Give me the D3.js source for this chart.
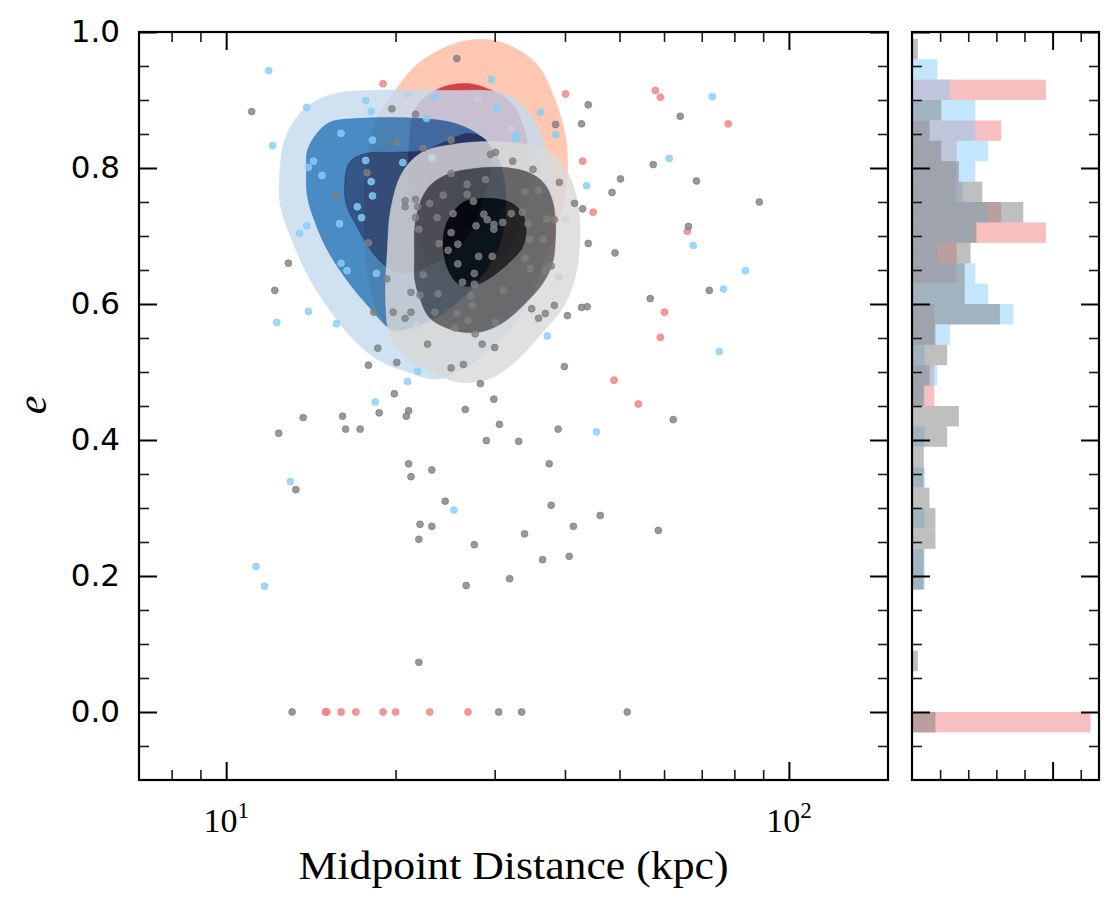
<!DOCTYPE html>
<html>
<head>
<meta charset="utf-8">
<script src="https://cdn.jsdelivr.net/npm/d3@7"></script>
<style>
  body { margin: 0; background: #fff; }
</style>
</head>
<body>
<div id="chart"></div>
<script>
// e vs midpoint distance, with KDE contours and a side histogram of e

const WIDTH = 1119;
const HEIGHT = 905;
const MAIN = { LEFT: 139, RIGHT: 888, TOP: 32, BOTTOM: 780 };
const HIST = { LEFT: 912, RIGHT: 1099 };
const BIN = 0.03;
const KDE_ALPHA = 0.82;

// ---- data ----------------------------------------------------------------

const yMajor = [0.0, 0.2, 0.4, 0.6, 0.8, 1.0];
const yMinor = [-0.05, 0.05, 0.1, 0.15, 0.25, 0.3, 0.35, 0.45, 0.5, 0.55, 0.65, 0.7, 0.75, 0.85, 0.9, 0.95];
const xMajor = [10, 100];
const xMinor = [8, 9, 20, 30, 40, 50, 60, 70, 80, 90];
const hMajor = [5];
const hMinor = [1, 2, 3, 4, 6];

// [midpoint distance (kpc), e]
const redPts = [[19.0,0.924],[40.1,0.909],[43.0,0.810],[21.0,0.908],[28.0,0.902],[32.1,0.858],[39.0,0.640],
  [57.9,0.914],[59.1,0.904],[78.0,0.865],[44.9,0.735],[66.0,0.707],[60.1,0.588],[59.1,0.551],[48.9,0.488],
  [54.0,0.453],[15.0,0.0],[15.1,0.0],[16.0,0.0],[17.0,0.0],[19.0,0.0],[20.0,0.0],[23.0,0.0],[26.9,0.0]];

const bluePts = [[11.9,0.943],[13.9,0.889],[17.7,0.899],[18.1,0.883],[23.5,0.904],[29.6,0.930],[30.3,0.888],
  [36.2,0.882],[38.5,0.849],[22.7,0.873],[12.1,0.833],[16.0,0.851],[18.2,0.841],[14.3,0.810],[14.0,0.801],
  [14.8,0.789],[17.7,0.811],[20.6,0.808],[18.1,0.780],[18.2,0.759],[17.1,0.743],[17.4,0.727],[15.9,0.718],
  [13.9,0.715],[13.5,0.704],[16.0,0.660],[16.4,0.649],[18.5,0.645],[14.0,0.589],[12.3,0.573],[15.7,0.571],
  [21.9,0.501],[21.0,0.486],[37.2,0.553],[43.7,0.774],[32.8,0.848],[32.7,0.843],[23.2,0.815],[73.1,0.905],
  [61.3,0.814],[67.6,0.686],[83.7,0.649],[76.5,0.622],[75.2,0.530],[45.5,0.412],[18.4,0.456],[13.0,0.339],
  [25.4,0.297],[11.3,0.214],[11.7,0.185],[40.1,0.725],[21.8,0.568]];

const grayPts = [[25.7,0.961],[11.1,0.883],[19.7,0.887],[21.7,0.879],[38.5,0.864],[42.8,0.865],[44.0,0.893],
  [20.1,0.838],[22.4,0.829],[25.1,0.841],[29.5,0.820],[30.1,0.823],[32.3,0.810],[35.1,0.798],[39.1,0.779],
  [25.1,0.792],[17.8,0.793],[15.7,0.758],[26.8,0.776],[28.9,0.783],[26.8,0.761],[34.0,0.765],[35.9,0.767],
  [41.6,0.748],[43.0,0.740],[20.8,0.752],[20.8,0.743],[21.7,0.754],[21.9,0.743],[23.0,0.748],[24.3,0.760],
  [27.5,0.751],[28.7,0.732],[29.1,0.724],[29.9,0.717],[29.9,0.710],[31.0,0.720],[32.1,0.733],[33.6,0.735],
  [27.8,0.715],[25.3,0.733],[23.7,0.727],[21.7,0.727],[22.0,0.710],[25.1,0.705],[23.9,0.689],[25.8,0.688],
  [24.8,0.679],[28.1,0.670],[29.7,0.670],[25.8,0.659],[27.6,0.645],[26.3,0.632],[27.6,0.629],[34.0,0.667],
  [34.7,0.652],[36.8,0.649],[37.8,0.656],[34.6,0.695],[36.6,0.695],[34.4,0.718],[37.1,0.725],[38.3,0.724],
  [17.9,0.690],[12.9,0.660],[12.2,0.620],[19.3,0.637],[21.3,0.617],[22.1,0.613],[22.4,0.643],[23.8,0.615],
  [27.2,0.612],[31.1,0.620],[27.4,0.598],[25.7,0.586],[23.5,0.588],[21.3,0.588],[19.8,0.588],[18.3,0.588],
  [20.8,0.579],[26.9,0.576],[30.1,0.573],[25.5,0.565],[27.7,0.556],[22.8,0.541],[28.5,0.541],[30.0,0.536],
  [34.9,0.593],[35.9,0.579],[36.9,0.586],[38.3,0.598],[40.4,0.583],[42.8,0.595],[43.8,0.596],[18.6,0.535],
  [17.9,0.510],[20.1,0.514],[25.1,0.506],[26.4,0.511],[28.3,0.483],[39.9,0.508],[29.9,0.460],[19.9,0.468],
  [64.1,0.876],[57.4,0.805],[50.2,0.784],[48.5,0.764],[68.5,0.781],[88.6,0.750],[66.3,0.714],[44.0,0.689],
  [49.1,0.675],[56.7,0.608],[72.2,0.620],[13.7,0.433],[16.1,0.435],[18.7,0.440],[21.1,0.443],[20.9,0.435],
  [26.6,0.445],[12.4,0.410],[16.3,0.416],[17.3,0.416],[30.6,0.423],[29.0,0.399],[33.1,0.398],[38.9,0.416],
  [21.1,0.365],[23.2,0.356],[37.5,0.365],[21.3,0.346],[13.3,0.327],[24.5,0.310],[37.8,0.304],[22.1,0.276],
  [23.2,0.273],[41.4,0.273],[22.0,0.254],[33.9,0.262],[27.6,0.246],[36.5,0.224],[40.7,0.229],[31.9,0.196],
  [26.7,0.186],[22.0,0.073],[13.1,0.0],[30.5,0.0],[33.5,0.0],[51.6,0.0],[62.3,0.430],[46.2,0.289],[58.6,0.267]];

// KDE contour outlines (outer, middle, inner level), [distance, e]
const redOuter = [[29.8,0.988],[33.2,0.973],[36.0,0.948],[38.45,0.899],[40.06,0.848],[40.4,0.796],[39.5,0.738],
  [37.8,0.686],[35.3,0.635],[31.85,0.590],[27.6,0.561],[23.9,0.543],[20.7,0.546],[18.9,0.579],[17.97,0.627],
  [17.6,0.708],[17.7,0.796],[18.4,0.867],[20.08,0.917],[22.05,0.955],[24.93,0.980],[27.05,0.988]];
const redMid = [[27.05,0.924],[29.96,0.912],[32.2,0.895],[33.7,0.862],[34.57,0.811],[34.3,0.752],[32.5,0.693],
  [29.36,0.649],[25.97,0.635],[23.44,0.657],[21.83,0.708],[21.17,0.767],[21.17,0.840],[21.7,0.888],[23.93,0.917]];
const redIn = [[28.0,0.811],[29.96,0.796],[30.8,0.760],[29.96,0.720],[28.0,0.705],[26.2,0.723],[25.44,0.760],[26.2,0.796]];

const blueOuter = [[12.43,0.782],[12.69,0.840],[13.33,0.874],[14.23,0.896],[15.70,0.910],[17.97,0.914],[24.4,0.914],
  [31.0,0.910],[34.0,0.888],[36.3,0.848],[37.5,0.782],[37.2,0.693],[34.6,0.605],[29.4,0.532],[23.9,0.490],
  [21.2,0.499],[18.7,0.517],[16.9,0.546],[15.3,0.590],[13.9,0.645],[12.95,0.704],[12.48,0.745]];
const blueMid = [[13.89,0.796],[13.95,0.826],[14.5,0.851],[15.26,0.867],[17.3,0.873],[22.05,0.873],[25.65,0.865],
  [28.5,0.845],[30.58,0.811],[31.4,0.752],[30.58,0.686],[27.61,0.627],[23.93,0.583],[21.17,0.564],[19.75,0.562],
  [17.97,0.595],[16.56,0.630],[15.26,0.674],[14.5,0.713],[13.95,0.757]];
const blueIn = [[16.23,0.774],[16.56,0.808],[17.60,0.821],[19.91,0.823],[22.5,0.826],[25.0,0.842],[27.05,0.851],
  [29.0,0.840],[29.7,0.811],[28.76,0.760],[26.50,0.693],[22.97,0.657],[20.32,0.646],[19.11,0.657],[17.97,0.682],
  [17.04,0.715],[16.36,0.745]];

const grayOuter = [[19.34,0.679],[19.6,0.738],[20.55,0.793],[22.3,0.823],[25.44,0.835],[29.36,0.839],[33.6,0.836],
  [37.06,0.826],[39.6,0.805],[41.4,0.774],[42.42,0.730],[42.42,0.679],[41.56,0.635],[39.89,0.598],[36.76,0.561],
  [32.51,0.514],[29.36,0.490],[25.97,0.485],[22.97,0.502],[20.74,0.524],[19.6,0.549],[19.2,0.605]];
const grayMid = [[21.61,0.668],[21.61,0.708],[21.83,0.733],[22.3,0.757],[23.2,0.777],[24.93,0.792],[27.4,0.799],
  [30.96,0.801],[34.57,0.793],[36.76,0.777],[38.0,0.752],[38.45,0.723],[38.45,0.693],[38.0,0.660],[36.5,0.630],
  [34.0,0.601],[31.46,0.576],[29.0,0.561],[26.7,0.558],[24.6,0.565],[22.97,0.580],[22.05,0.610],[21.61,0.639]];
const grayIn = [[26.3,0.749],[28.18,0.755],[30.58,0.754],[32.2,0.748],[33.6,0.733],[34.1,0.708],[33.6,0.683],
  [32.2,0.665],[30.2,0.645],[28.18,0.630],[26.7,0.626],[25.65,0.632],[24.7,0.654],[24.3,0.683],[24.42,0.708],[24.93,0.727]];

// histogram of e: lower bin edges and counts per group
const binLo = [-0.03, 0.00, 0.03, 0.06, 0.09, 0.12, 0.15, 0.18, 0.21, 0.24, 0.27, 0.30, 0.33, 0.36, 0.39, 0.42, 0.45,
  0.48, 0.51, 0.54, 0.57, 0.60, 0.63, 0.66, 0.69, 0.72, 0.75, 0.78, 0.81, 0.84, 0.87, 0.90, 0.93, 0.96];
const redHist  = [8,0,0,0,0,0,0,0,0,0, 0,0,0,0,0,0,1,1,0,1, 1,0,2,2,6,4,2,2,2,4, 0,6,0,0];
const blueHist = [0,0,0,0,0,0,0,1,1,0, 1,0,1,0,1,0,1,2,1,3, 8,6,5,2,5,6,4,5,6,5, 5,3,2,0];
const grayHist = [4,0,0,1,0,0,0,2,2,4, 4,3,2,2,6,8,2,3,6,4, 15,9,9,10,11,19,12,8,5,3, 5,0,0,1];

const RED = '#f08080', BLUE = '#87cefa', GRAY = '#808080';
const redLevels = ['#fcbba1', '#cb181d', '#67000d'];
const blueLevels = ['#c6dbef', '#2171b5', '#08306b'];
const grayLevels = ['#d9d9d9', '#525252', '#000000'];

// ---- scales ----------------------------------------------------------------

const x = d3.scaleLog().domain([7, 150]).range([MAIN.LEFT, MAIN.RIGHT]);
const y = d3.scaleLinear().domain([-0.1, 1.0]).range([MAIN.BOTTOM, MAIN.TOP]);
const hx = d3.scaleLinear().domain([0, 6.65]).range([HIST.LEFT, HIST.RIGHT]);

const svg = d3.select('#chart').append('svg')
    .attr('width', WIDTH)
    .attr('height', HEIGHT)
    .style('background', '#fff');

svg.append('defs').append('clipPath').attr('id', 'clip-main')
  .append('rect')
    .attr('x', MAIN.LEFT).attr('y', MAIN.TOP)
    .attr('width', MAIN.RIGHT - MAIN.LEFT).attr('height', MAIN.BOTTOM - MAIN.TOP);

const plot = svg.append('g').attr('clip-path', 'url(#clip-main)');

const outline = d3.line()
    .x(p => x(p[0]))
    .y(p => y(p[1]))
    .curve(d3.curveCatmullRomClosed.alpha(0.5));

// filled bands: each level minus the next one inside it
function drawKde(levels, colors) {
  levels.forEach((lv, i) => {
    const d = outline(lv) + (levels[i + 1] ? outline(levels[i + 1]) : '');
    plot.append('path')
        .attr('d', d)
        .attr('fill-rule', 'evenodd')
        .attr('fill', colors[i])
        .attr('fill-opacity', KDE_ALPHA)
        .attr('stroke', colors[i])
        .attr('stroke-opacity', 0.5)
        .attr('stroke-width', 0.8);
  });
}

function drawPoints(pts, color) {
  plot.append('g').selectAll('circle')
      .data(pts)
      .join('circle')
      .attr('cx', p => x(p[0]))
      .attr('cy', p => y(p[1]))
      .attr('r', 3.4)
      .attr('fill', color)
      .attr('fill-opacity', 0.8)
      .attr('stroke', color)
      .attr('stroke-opacity', 0.8)
      .attr('stroke-width', 1);
}

drawKde([redOuter, redMid, redIn], redLevels);
drawPoints(redPts, RED);
drawKde([blueOuter, blueMid, blueIn], blueLevels);
drawPoints(bluePts, BLUE);
drawKde([grayOuter, grayMid, grayIn], grayLevels);
drawPoints(grayPts, GRAY);

// ---- side histogram (density) ---------------------------------------------

const hist = svg.append('g');

function drawHist(counts, color) {
  const n = d3.sum(counts);
  const bars = counts.map((c, i) => ({ lo: binLo[i], v: c / (n * BIN) })).filter(b => b.v > 0);
  hist.append('g').selectAll('rect')
      .data(bars)
      .join('rect')
      .attr('x', hx(0))
      .attr('y', b => y(b.lo + BIN))
      .attr('width', b => hx(b.v) - hx(0))
      .attr('height', b => y(b.lo) - y(b.lo + BIN))
      .attr('fill', color)
      .attr('fill-opacity', 0.5);
}

drawHist(redHist, RED);
drawHist(blueHist, BLUE);
drawHist(grayHist, GRAY);

// ---- axes --------------------------------------------------------------------

function ticks(axis, pos, major) {
  const g = svg.append('g').attr('transform', pos).call(axis);
  g.select('.domain').remove();
  g.selectAll('.tick line')
      .attr('stroke', major ? '#000' : '#1a1a1a')
      .attr('stroke-width', major ? 2 : 1.6);
  return g;
}

const noLabel = () => '';

// main panel
const yLab = ticks(d3.axisLeft(y).tickValues(yMajor).tickSize(-18).tickPadding(19).tickFormat(d3.format('.1f')),
  `translate(${MAIN.LEFT},0)`, true);
yLab.selectAll('text')
    .attr('font-family', 'DejaVu Sans')
    .attr('font-size', 31)
    .attr('fill', '#000');
ticks(d3.axisLeft(y).tickValues(yMinor).tickSize(-10).tickFormat(noLabel), `translate(${MAIN.LEFT},0)`, false);
ticks(d3.axisRight(y).tickValues(yMajor).tickSize(-18).tickFormat(noLabel), `translate(${MAIN.RIGHT},0)`, true);
ticks(d3.axisRight(y).tickValues(yMinor).tickSize(-10).tickFormat(noLabel), `translate(${MAIN.RIGHT},0)`, false);
ticks(d3.axisBottom(x).tickValues(xMajor).tickSize(-18).tickFormat(noLabel), `translate(0,${MAIN.BOTTOM})`, true);
ticks(d3.axisBottom(x).tickValues(xMinor).tickSize(-10).tickFormat(noLabel), `translate(0,${MAIN.BOTTOM})`, false);
ticks(d3.axisTop(x).tickValues(xMajor).tickSize(-18).tickFormat(noLabel), `translate(0,${MAIN.TOP})`, true);
ticks(d3.axisTop(x).tickValues(xMinor).tickSize(-10).tickFormat(noLabel), `translate(0,${MAIN.TOP})`, false);

// 10^1, 10^2 labels
const xLab = svg.append('g').selectAll('text')
    .data(xMajor)
    .join('text')
    .attr('x', d => x(d))
    .attr('y', 832)
    .attr('text-anchor', 'middle')
    .attr('font-family', 'Liberation Serif, serif')
    .attr('font-size', 34)
    .attr('fill', '#000');
xLab.append('tspan').text('10');
xLab.append('tspan')
    .attr('dy', -14)
    .attr('font-size', 23)
    .text(d => String(Math.round(Math.log10(d))));

svg.append('text')
    .attr('x', (MAIN.LEFT + MAIN.RIGHT) / 2)
    .attr('y', 879)
    .attr('text-anchor', 'middle')
    .attr('font-family', 'Liberation Serif, serif')
    .attr('font-size', 41)
    .attr('textLength', 430)
    .attr('lengthAdjust', 'spacingAndGlyphs')
    .attr('fill', '#000')
    .text('Midpoint Distance (kpc)');

svg.append('text')
    .attr('transform', 'translate(46,405) rotate(-90)')
    .attr('text-anchor', 'middle')
    .attr('font-family', 'Liberation Serif, serif')
    .attr('font-style', 'italic')
    .attr('font-size', 42)
    .attr('fill', '#000')
    .text('e');

// histogram panel
ticks(d3.axisLeft(y).tickValues(yMajor).tickSize(-18).tickFormat(noLabel), `translate(${HIST.LEFT},0)`, true);
ticks(d3.axisLeft(y).tickValues(yMinor).tickSize(-10).tickFormat(noLabel), `translate(${HIST.LEFT},0)`, false);
ticks(d3.axisRight(y).tickValues(yMajor).tickSize(-18).tickFormat(noLabel), `translate(${HIST.RIGHT},0)`, true);
ticks(d3.axisRight(y).tickValues(yMinor).tickSize(-10).tickFormat(noLabel), `translate(${HIST.RIGHT},0)`, false);
ticks(d3.axisBottom(hx).tickValues(hMajor).tickSize(-18).tickFormat(noLabel), `translate(0,${MAIN.BOTTOM})`, true);
ticks(d3.axisBottom(hx).tickValues(hMinor).tickSize(-10).tickFormat(noLabel), `translate(0,${MAIN.BOTTOM})`, false);
ticks(d3.axisTop(hx).tickValues(hMajor).tickSize(-18).tickFormat(noLabel), `translate(0,${MAIN.TOP})`, true);
ticks(d3.axisTop(hx).tickValues(hMinor).tickSize(-10).tickFormat(noLabel), `translate(0,${MAIN.TOP})`, false);

// frames
[[MAIN.LEFT, MAIN.RIGHT], [HIST.LEFT, HIST.RIGHT]].forEach(([l, r]) => {
  svg.append('rect')
      .attr('x', l).attr('y', MAIN.TOP)
      .attr('width', r - l).attr('height', MAIN.BOTTOM - MAIN.TOP)
      .attr('fill', 'none')
      .attr('stroke', '#000')
      .attr('stroke-width', 2.2);
});
</script>
</body>
</html>
